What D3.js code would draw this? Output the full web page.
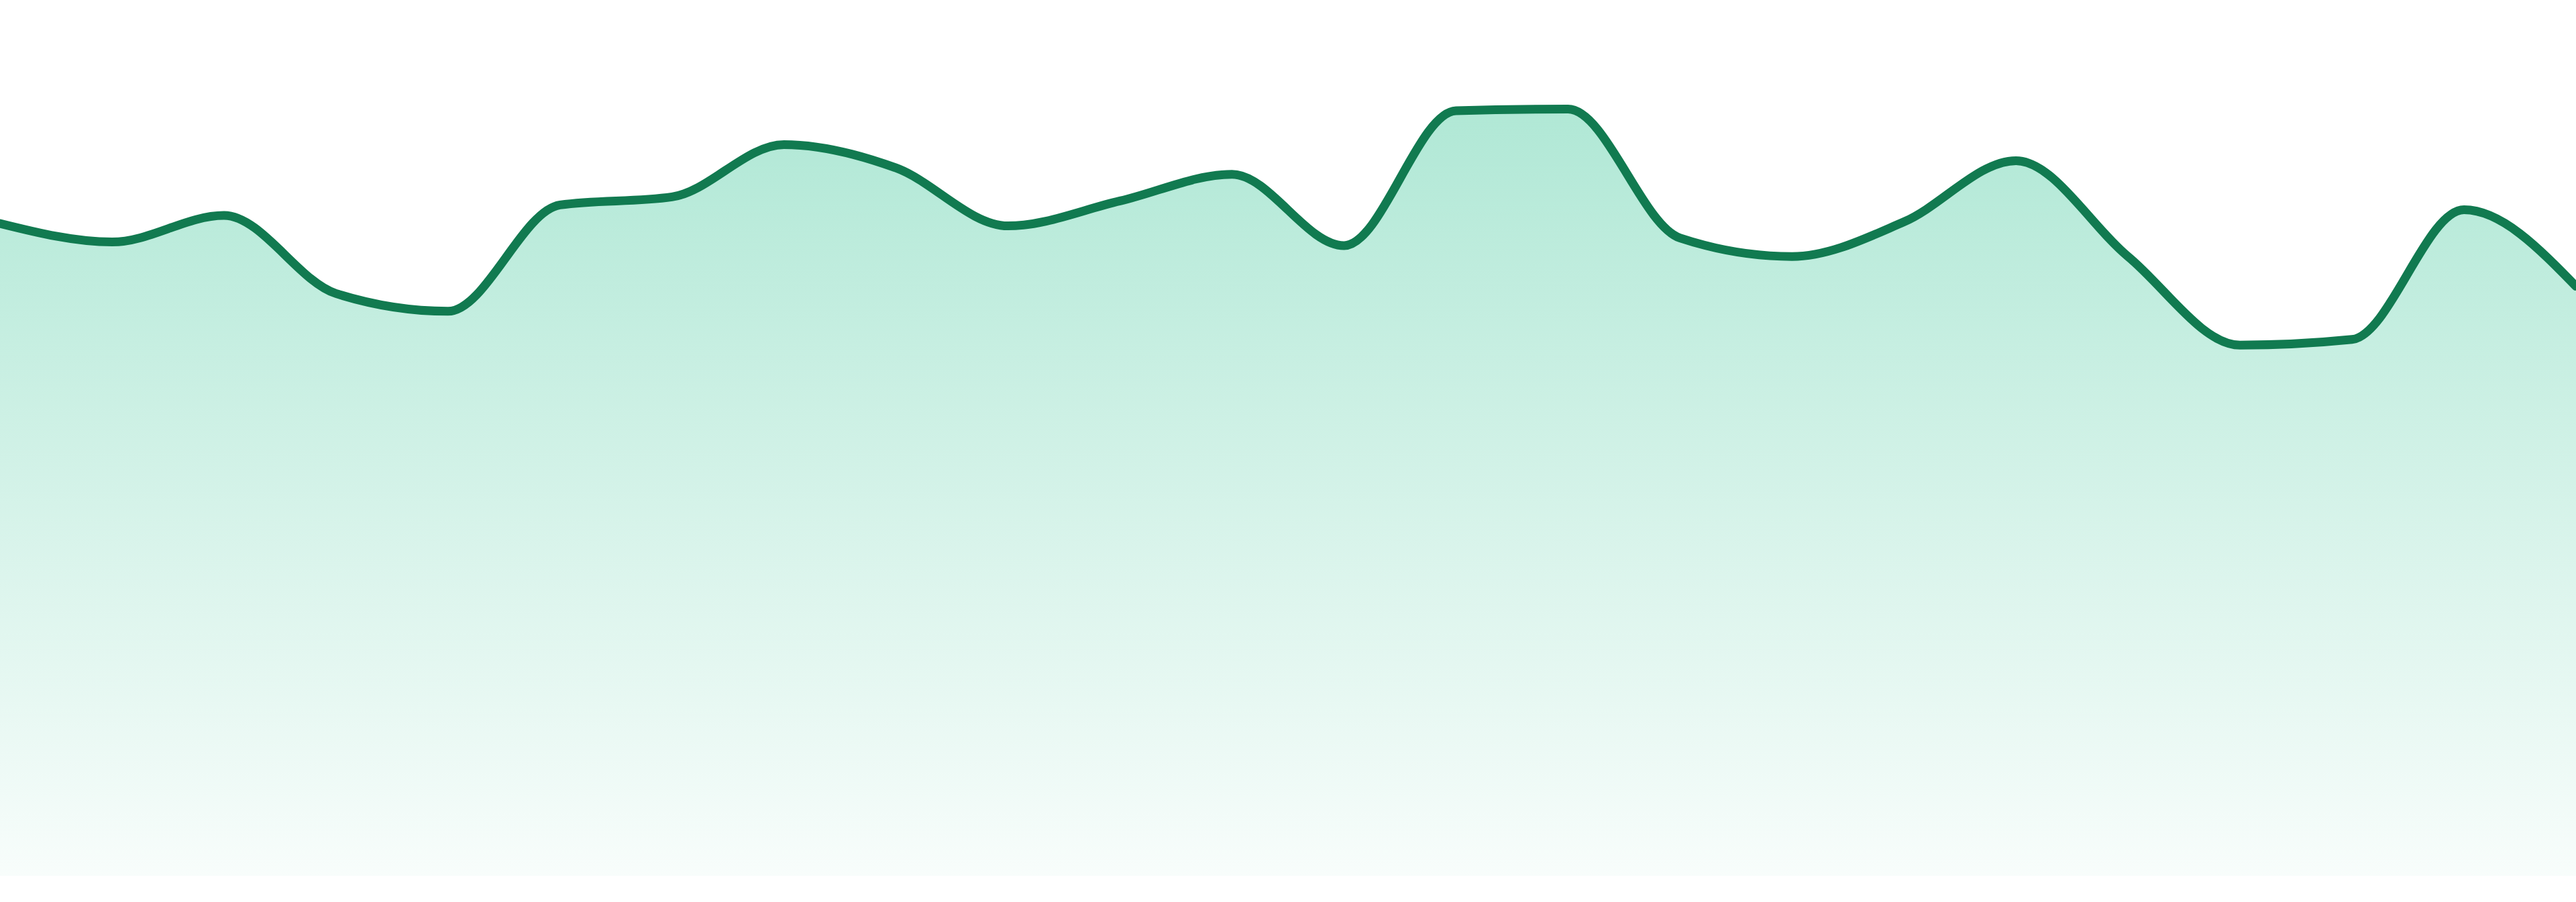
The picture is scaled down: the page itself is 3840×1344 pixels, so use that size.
<!DOCTYPE html>
<html>
<head>
<meta charset="utf-8">
<script src="https://cdn.jsdelivr.net/npm/d3@7"></script>
<style>
  html, body { margin: 0; padding: 0; background: #ffffff; overflow: hidden; }
  svg { display: block; }
</style>
</head>
<body>
<svg id="chart" width="3840" height="1344"></svg>
<script>
// Data (index = category position along the x axis)
const categories = d3.range(24).map(i => "P" + (i + 1));
const values = [81.0, 78.7, 82.0, 72.3, 70.1, 83.3, 84.3, 90.8, 87.9, 80.7, 83.8, 87.1,
                78.25, 95.0, 95.2, 79.2, 76.9, 81.2, 88.8, 76.9, 65.9, 66.6, 82.7, 73.2];

const W = 3840, H = 1344;
const svg = d3.select("#chart");

const x = d3.scalePoint().domain(categories).range([0, W]);
const y = d3.scaleLinear().domain([0, 100]).range([1305, 105]);

const data = categories.map((c, i) => ({ c, v: values[i] }));

const defs = svg.append("defs");
const grad = defs.append("linearGradient")
  .attr("id", "fillGrad")
  .attr("gradientUnits", "userSpaceOnUse")
  .attr("x1", 0).attr("x2", 0)
  .attr("y1", y(d3.max(values))).attr("y2", y(0));
grad.append("stop").attr("offset", "0%").attr("stop-color", "#10b981").attr("stop-opacity", 0.33);
grad.append("stop").attr("offset", "100%").attr("stop-color", "#10b981").attr("stop-opacity", 0.03);

const area = d3.area()
  .x(d => x(d.c))
  .y0(y(0))
  .y1(d => y(d.v))
  .curve(d3.curveMonotoneX);

const line = d3.line()
  .x(d => x(d.c))
  .y(d => y(d.v))
  .curve(d3.curveMonotoneX);

svg.append("path")
  .datum(data)
  .attr("d", area)
  .attr("fill", "url(#fillGrad)");

svg.append("path")
  .datum(data)
  .attr("d", line)
  .attr("fill", "none")
  .attr("stroke", "#117a50")
  .attr("stroke-width", 13)
  .attr("stroke-linejoin", "round")
  .attr("stroke-linecap", "round");
</script>
</body>
</html>
